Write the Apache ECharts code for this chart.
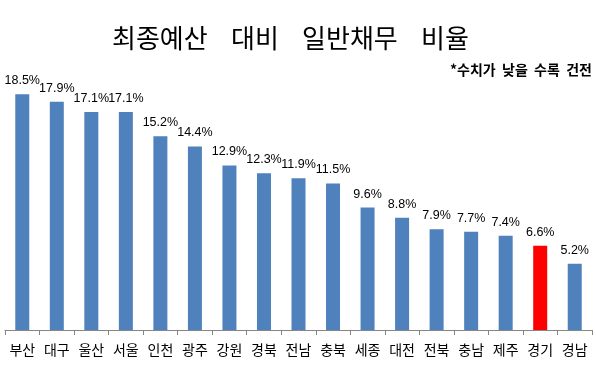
<!DOCTYPE html>
<html>
<head>
<meta charset="utf-8">
<script src="https://cdn.jsdelivr.net/npm/echarts@6/dist/echarts.min.js"></script>
<style>
html,body{margin:0;padding:0;background:#fff;}
#c{width:596px;height:366px;}
</style>
</head>
<body>
<div id="c"></div>
<script>
const titleText = '최종예산    대비    일반채무    비율';
const noteText = '*수치가  낮을  수록  건전';
const categories = ['부산','대구','울산','서울','인천','광주','강원','경북','전남','충북','세종','대전','전북','충남','제주','경기','경남'];
const values = [18.5,17.9,17.1,17.1,15.2,14.4,12.9,12.3,11.9,11.5,9.6,8.8,7.9,7.7,7.4,6.6,5.2];
const highlight = ['경기'];

const chart = echarts.init(document.getElementById('c'), null, {renderer:'canvas'});
chart.setOption({
  animation:false,
  backgroundColor:'#ffffff',
  title:{
    text:titleText,
    left:107,
    top:20,
    textStyle:{fontFamily:'Noto Sans CJK KR',fontSize:26,fontWeight:'normal',color:'#000'}
  },
  graphic:[{
    type:'text',
    right:4,
    top:63,
    style:{text:noteText,font:'bold 14px "Noto Sans CJK KR"',fill:'#000'}
  }],
  grid:{left:5,right:4,top:75,bottom:36,containLabel:false,outerBoundsMode:'none'},
  xAxis:{
    type:'category',
    data:categories,
    axisLine:{lineStyle:{color:'#868686',width:1}},
    axisTick:{show:true,length:5,lineStyle:{color:'#868686'}},
    axisLabel:{margin:13,fontFamily:'Noto Sans CJK KR',fontSize:14,color:'#000',interval:0}
  },
  yAxis:{
    type:'value',min:0,max:20,show:false,
    splitLine:{show:false}
  },
  series:[{
    type:'bar',
    barWidth:14,
    data:values.map((v,i)=>({value:v,itemStyle:{color:highlight.includes(categories[i])?'#FF0000':'#4F81BD'}})),
    label:{show:true,position:'top',distance:7,formatter:p=>p.value.toFixed(1)+'%',
      fontFamily:'Liberation Sans',fontSize:12.5,color:'#000'}
  }]
});
</script>
</body>
</html>
